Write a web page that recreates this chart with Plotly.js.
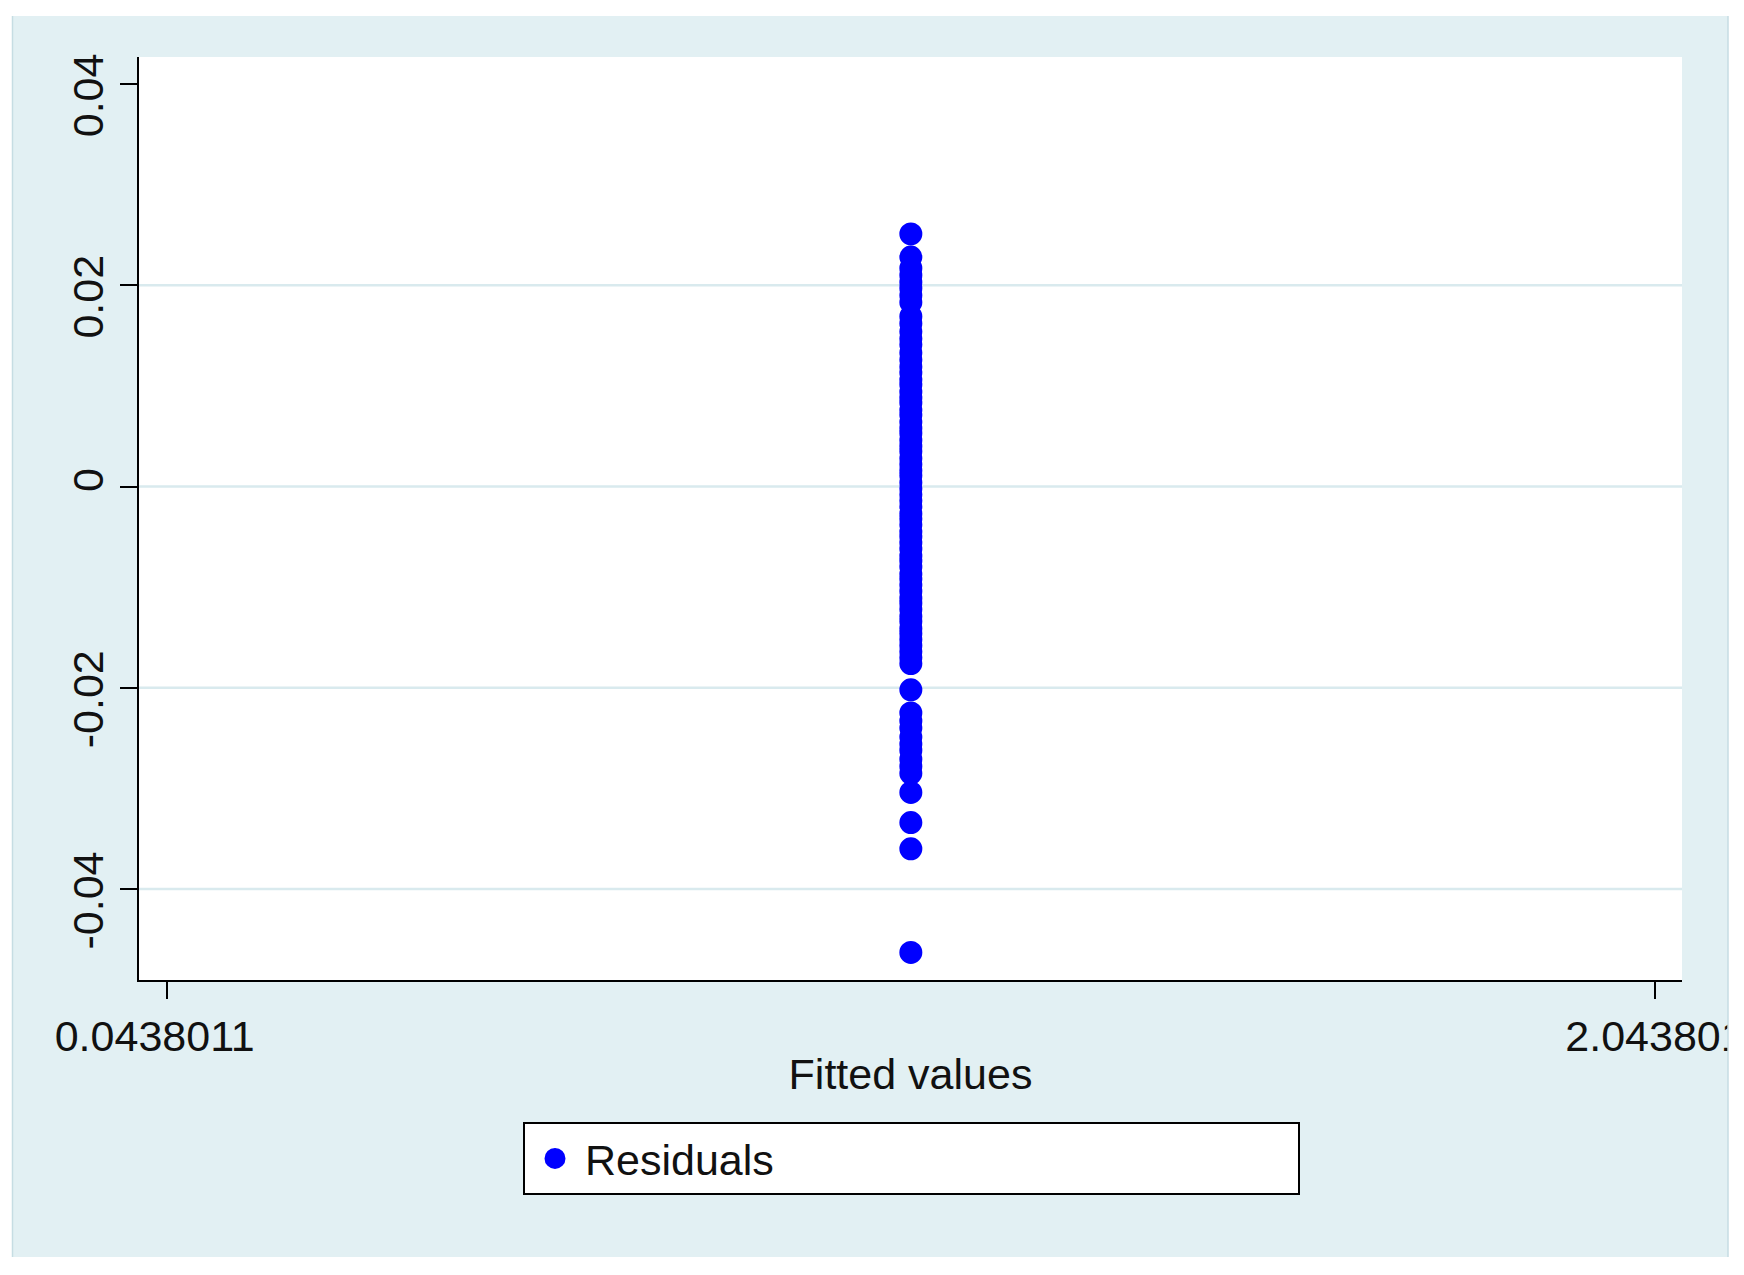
<!DOCTYPE html>
<html>
<head>
<meta charset="utf-8">
<script src="https://cdn.plot.ly/plotly-3.0.1.min.js"></script>
<style>html,body{margin:0;padding:0;background:#fff;}#chart{width:1744px;height:1275px;}</style>
</head>
<body>
<div id="chart"></div>
<script>
const fittedValue = 1.0438011;
const residuals = [
  0.0251, 0.0228, 0.0217, 0.0210, 0.0203, 0.0197, 0.0190, 0.0183, 0.0169, 0.0162,
  0.0154, 0.0147, 0.0141, 0.0133, 0.0126, 0.0119, 0.0113, 0.0106, 0.0101, 0.0094,
  0.0088, 0.0083, 0.0076, 0.0071, 0.0064, 0.0058, 0.0053, 0.0046, 0.0040, 0.0035,
  0.0028, 0.0022, 0.0016, 0.0011, 0.0004, -0.0002, -0.0008, -0.0014, -0.0020, -0.0027,
  -0.0032, -0.0038, -0.0045, -0.0050, -0.0056, -0.0062, -0.0069, -0.0074, -0.0080, -0.0087,
  -0.0092, -0.0098, -0.0104, -0.0111, -0.0116, -0.0122, -0.0129, -0.0134, -0.0141, -0.0146,
  -0.0152, -0.0158, -0.0164, -0.0170, -0.0176, -0.0202, -0.0225, -0.0233, -0.0240, -0.0249,
  -0.0256, -0.0262, -0.0271, -0.0278, -0.0285, -0.0304, -0.0334, -0.0360, -0.0463
];
const fitted = residuals.map(() => fittedValue);
const xTickVals = [0.0438011, 2.043801];
const xTickText = ['0.0438011\u00A0\u00A0', '2.043801'];
const yTickVals = [-0.04, -0.02, 0, 0.02, 0.04];
const yTickText = ['-0.04\u00A0\u00A0\u00A0', '-0.02\u00A0\u00A0\u00A0', '0', '0.02\u00A0\u00A0\u00A0', '0.04\u00A0\u00A0\u00A0'];
const yGridVals = [-0.04, -0.02, 0, 0.02];   // no grid line at the top tick
const seriesName = 'Residuals';
const xTitle = 'Fitted values';

const bg = '#e2f0f3';
const gridColor = '#d9eaee';
const fontFam = '"Liberation Sans", Arial, Helvetica, sans-serif';
const FS = 43;

const L = 139, R = 1682, T = 57, B = 980, W = 1744, H = 1275;
const pw = R - L, ph = B - T;
const px = v => (v - L) / pw;
const py = v => (B - v) / ph;

const shapes = [];
// white outer margins (figure region is light blue)
shapes.push({type:'rect', xref:'paper', yref:'paper', x0:px(0), x1:px(12), y0:py(H), y1:py(0), fillcolor:'#fff', line:{width:0}, layer:'below'});
shapes.push({type:'rect', xref:'paper', yref:'paper', x0:px(0), x1:px(W), y0:py(16), y1:py(0), fillcolor:'#fff', line:{width:0}, layer:'below'});
shapes.push({type:'rect', xref:'paper', yref:'paper', x0:px(0), x1:px(W), y0:py(H), y1:py(1257), fillcolor:'#fff', line:{width:0}, layer:'below'});
// right strip drawn above so the last tick label is clipped as in the reference
shapes.push({type:'rect', xref:'paper', yref:'paper', x0:px(1728), x1:px(W), y0:py(H), y1:py(0), fillcolor:'#fff', line:{width:0}, layer:'above'});
shapes.push({type:'line', xref:'paper', yref:'paper', x0:px(12.5), x1:px(12.5), y0:py(1257), y1:py(16), line:{color:'#c6dde3', width:1.5}, layer:'below'});
shapes.push({type:'line', xref:'paper', yref:'paper', x0:px(1728), x1:px(1728), y0:py(1257), y1:py(16), line:{color:'#c6dde3', width:1.5}, layer:'above'});
// grid lines
yGridVals.forEach(v => shapes.push({type:'line', xref:'paper', yref:'y', x0:0, x1:1, y0:v, y1:v, line:{color:gridColor, width:2.5}, layer:'below'}));

const trace = {
  x: fitted, y: residuals, type:'scatter', mode:'markers', name: seriesName,
  marker:{color:'#0000ff', size:18, line:{color:'#0000ff', width:5}},
  showlegend:true, cliponaxis:false
};

const layout = {
  width:W, height:H,
  paper_bgcolor: bg, plot_bgcolor:'#ffffff',
  margin:{l:L, r:W-R, t:T, b:H-B, pad:0},
  font:{family:fontFam, size:FS, color:'#111'},
  showlegend:true,
  xaxis:{
    range:[0.0066, 2.0801], tickmode:'array', tickvals:xTickVals, ticktext:xTickText,
    showgrid:false, zeroline:false, showline:true, linecolor:'#000', linewidth:2,
    ticks:'outside', ticklen:17, tickwidth:2, tickcolor:'#000',
    tickfont:{size:FS, color:'#111'}, ticklabeloverflow:'allow',
    title:{text:xTitle, font:{size:FS, color:'#111'}, standoff:0},
    fixedrange:true
  },
  yaxis:{
    range:[-0.04904, 0.04268], tickmode:'array', tickvals:yTickVals, ticktext:yTickText,
    showgrid:false, zeroline:false, showline:true, linecolor:'#000', linewidth:2,
    ticks:'outside', ticklen:17, tickwidth:2, tickcolor:'#000', tickangle:-90,
    tickfont:{size:FS, color:'#111'}, ticklabeloverflow:'allow',
    fixedrange:true
  },
  legend:{
    orientation:'h', x:px(523), xanchor:'left', y:py(1122), yanchor:'top',
    bgcolor:'#ffffff', bordercolor:'#000', borderwidth:2,
    font:{size:FS, color:'#111'}, entrywidth:708, entrywidthmode:'pixels',
    itemwidth:50
  },
  shapes: shapes
};

Plotly.newPlot('chart', [trace], layout, {staticPlot:true, displayModeBar:false});
</script>
</body>
</html>
